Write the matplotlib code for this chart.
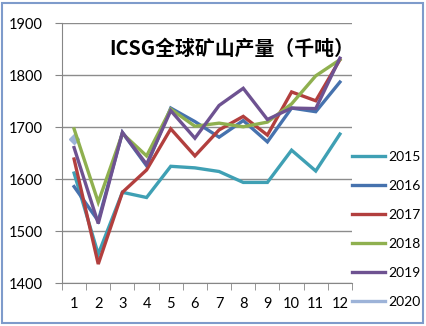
import matplotlib.pyplot as plt
from matplotlib.lines import Line2D
from matplotlib.patches import Rectangle

plt.rcParams['font.family'] = ['Lato', 'DejaVu Sans']

months = [1, 2, 3, 4, 5, 6, 7, 8, 9, 10, 11, 12]
y2015 = [1612, 1456, 1575, 1565, 1625, 1622, 1615, 1594, 1594, 1656, 1616, 1687]
y2016 = [1586, 1520, 1690, 1626, 1737, 1711, 1681, 1713, 1672, 1737, 1730, 1787]
y2017 = [1639, 1437, 1575, 1618, 1697, 1645, 1695, 1721, 1685, 1768, 1751, 1830]
y2018 = [1697, 1556, 1688, 1645, 1735, 1702, 1708, 1701, 1710, 1745, 1799, 1830]
y2019 = [1661, 1515, 1690, 1629, 1732, 1679, 1742, 1775, 1715, 1737, 1736, 1833]
y2020 = [1677]

series = [
    ('2015', y2015, '#3FA0B4'),
    ('2016', y2016, '#4672AE'),
    ('2017', y2017, '#B23F3E'),
    ('2018', y2018, '#8FB04F'),
    ('2019', y2019, '#6E5291'),
    ('2020', y2020, '#9DB3D8'),
]

fig = plt.figure(figsize=(4.27, 3.26), dpi=100)
ax = fig.add_axes([62 / 427, 1 - 283.3 / 326, 290 / 427, 260 / 326])

handles = []
for name, vals, color in series:
    x = months[:len(vals)]
    if len(vals) == 1:
        ax.plot(x, vals, marker='D', markersize=5.5, color=color, linestyle='none', zorder=1)
    else:
        ax.plot(x, vals, color=color, linewidth=2.4, solid_joinstyle='miter', zorder=2)
    handles.append(Line2D([], [], color=color, linewidth=2.4, label=name))

ax.set_xlim(0.5, 12.5)
ax.set_ylim(1400, 1900)
ax.set_yticks([1400, 1500, 1600, 1700, 1800, 1900])
ax.set_xticks(months)
ax.set_xticks([m + 0.5 for m in range(0, 13)], minor=True)
ax.tick_params(axis='x', which='major', length=0, pad=10, labelsize=10.5)
ax.tick_params(axis='x', which='minor', length=5, color='#868686', direction='out')
ax.tick_params(axis='y', length=5, color='#868686', pad=9, labelsize=10.5)
ax.grid(axis='y', color='#8C8C8C', linewidth=1)
ax.set_axisbelow(True)
for s in ['top', 'right']:
    ax.spines[s].set_visible(False)
for s in ['left', 'bottom']:
    ax.spines[s].set_color('#868686')

ax.text(0.585, 0.905, 'ICSG全球矿山产量（千吨）', transform=ax.transAxes,
        ha='center', va='center', fontsize=14.3, fontweight='bold',
        family=['Noto Sans CJK SC', 'DejaVu Sans'])

fig.legend(handles=handles, loc='upper left', bbox_to_anchor=(352 / 427, 1 - 151 / 326),
           frameon=False, fontsize=10, handlelength=2.4, handletextpad=0.2,
           labelspacing=1.22, borderaxespad=0, borderpad=0)

fig.patches.append(Rectangle((2 / 427, 3 / 326), 421 / 427, 320 / 326, transform=fig.transFigure,
                             fill=False, edgecolor='#7E9BCB', linewidth=1.5))

fig.savefig('out.png', dpi=100)
